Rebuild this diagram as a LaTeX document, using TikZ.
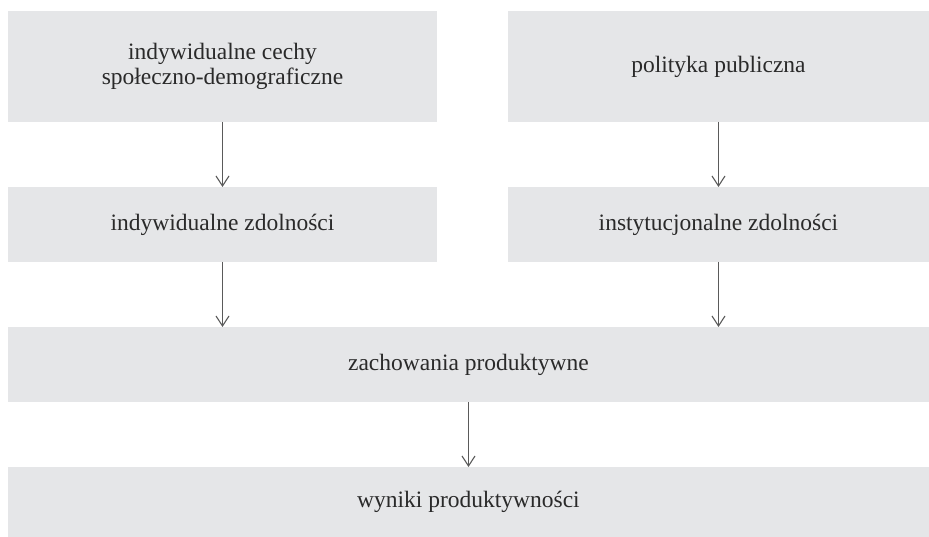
\documentclass[tikz,border=0pt]{standalone}
\usepackage{fontspec}
\setmainfont{Liberation Serif}
\usepackage{tikz}
\usetikzlibrary{positioning,arrows.meta,calc}
\definecolor{boxgray}{HTML}{E5E6E8}
\definecolor{linegray}{HTML}{5A5A5A}
\definecolor{textgray}{HTML}{2A2A2A}

\begin{document}
\begin{tikzpicture}[node distance=65pt and 71pt, box/.style={fill=boxgray, draw=none, outer sep=0pt, align=center, text=textgray, font=\fontsize{23.5}{24.5}\selectfont}, arrow/.style={-{Straight Barb[length=10pt, width=13pt]}, draw=linegray, line width=1.1pt}]
        \node[box, minimum width=429pt, minimum height=111pt] (cechy) {indywidualne cechy\\społeczno-demograficzne};
        \node[box, minimum width=421pt, minimum height=111pt, right=of cechy] (polityka) {polityka publiczna};
        \node[box, minimum width=429pt, minimum height=75pt, below=of cechy] (indzd) {indywidualne zdolności};
        \node[box, minimum width=421pt, minimum height=75pt, below=of polityka] (instzd) {instytucjonalne zdolności};
        \node[box, minimum width=921pt, minimum height=75pt, below=of $(indzd.south west)!0.5!(instzd.south east)$] (zach) {zachowania produktywne};
        \node[box, minimum width=921pt, minimum height=70pt, below=of zach] (wyniki) {wyniki produktywności};
        \draw[arrow] (cechy) -- (indzd);
        \draw[arrow] (polityka) -- (instzd);
        \draw[arrow] (indzd.south) -- (indzd.south |- zach.north);
        \draw[arrow] (instzd.south) -- (instzd.south |- zach.north);
        \draw[arrow] (zach) -- (wyniki);
        \path ($(cechy.north west)+(-8pt,11pt)$) rectangle (wyniki.south east);
    \end{tikzpicture}
\end{document}
